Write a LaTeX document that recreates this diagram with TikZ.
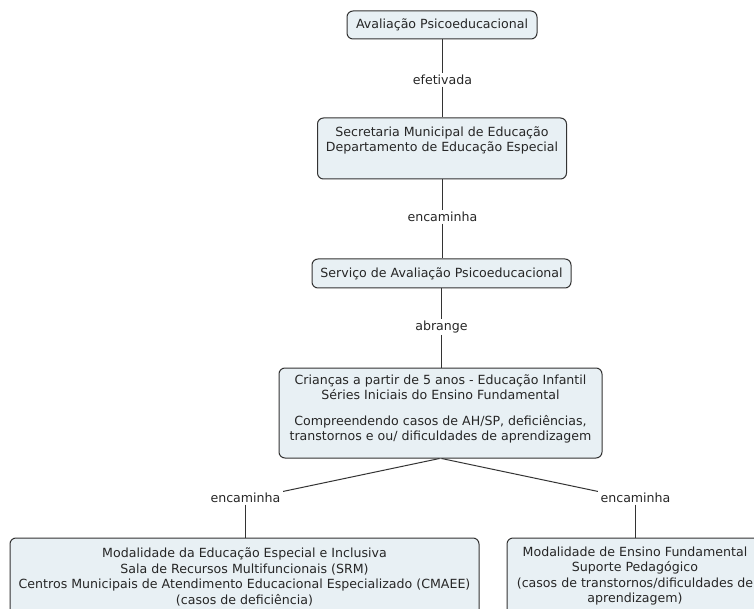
\documentclass[tikz,border=0pt]{standalone}
\usepackage{fontspec}
\setmainfont{DejaVu Sans}
\begin{document}
\begin{tikzpicture}[x=1pt,y=-1pt,
  box/.style={draw=black!80, line width=1pt, fill=boxfill, rounded corners=6pt, inner sep=0pt},
  txt/.style={align=center, inner sep=0pt, font=\fontsize{12.6}{15.5}\selectfont, text=black!85},
  lbl/.style={inner sep=1.5pt, font=\fontsize{12.6}{15.5}\selectfont, text=black!85},
  link/.style={draw=black!80, line width=1pt}]
\definecolor{boxfill}{HTML}{E8F0F4}
\useasboundingbox (0,0) rectangle (754,609);
\clip (0,0) rectangle (754,609);

% concept boxes
\node[box, minimum width=190pt, minimum height=28pt] (aval) at (442,25) {};
\node[txt] (avalT) at (442,25) {Avaliação Psicoeducacional};

\node[box, minimum width=249pt, minimum height=61pt] (sec) at (442,148.5) {};
\node[txt] (secT) at (442,140.5) {Secretaria Municipal de Educação\\Departamento de Educação Especial};

\node[box, minimum width=259pt, minimum height=29pt] (serv) at (441.5,273.5) {};
\node[txt] (servT) at (441.5,273.5) {Serviço de Avaliação Psicoeducacional};

\node[box, minimum width=323pt, minimum height=90pt] (cri) at (440.5,413) {};
\node[txt] (criT) at (440.5,409) {Crianças a partir de 5 anos - Educação Infantil\\Séries Iniciais do Ensino Fundamental\\[10pt]Compreendendo casos de AH/SP, deficiências,\\transtornos e ou/ dificuldades de aprendizagem};

\node[box, minimum width=469pt, minimum height=100pt] (esp) at (244.5,588) {};
\node[txt] (espT) at (244.5,577) {Modalidade da Educação Especial e Inclusiva\\Sala de Recursos Multifuncionais (SRM)\\Centros Municipais de Atendimento Educacional Especializado (CMAEE)\\(casos de deficiência)};

\node[box, minimum width=266pt, minimum height=100pt] (fund) at (640,588) {};
\node[txt] (fundT) at (635,576) {Modalidade de Ensino Fundamental\\Suporte Pedagógico\\(casos de transtornos/dificuldades de\\aprendizagem)};

% linking phrases
\node[lbl] (efet) at (442.5,80) {efetivada};
\node[lbl] (enc1) at (442.5,217) {encaminha};
\node[lbl] (abr) at (441.5,327) {abrange};
\node[lbl] (encL) at (245.5,498) {encaminha};
\node[lbl] (encR) at (635.5,498) {encaminha};

% connectors
\draw[link] (aval.south -| efet) -- (efet.north);
\draw[link] (efet.south) -- (sec.north -| efet);
\draw[link] (sec.south -| enc1) -- (enc1.north);
\draw[link] (enc1.south) -- (serv.north -| enc1);
\draw[link] (serv.south -| abr) -- (abr.north);
\draw[link] (abr.south) -- (cri.north -| abr);
\draw[link] ([xshift=-1pt]cri.south) -- ([xshift=1pt]encL.north east);
\draw[link] ([xshift=1pt]cri.south) -- ([xshift=-1pt]encR.north west);
\draw[link] (encL.south) -- (esp.north -| encL);
\draw[link] (encR.south) -- (fund.north -| encR);
\end{tikzpicture}
\end{document}
